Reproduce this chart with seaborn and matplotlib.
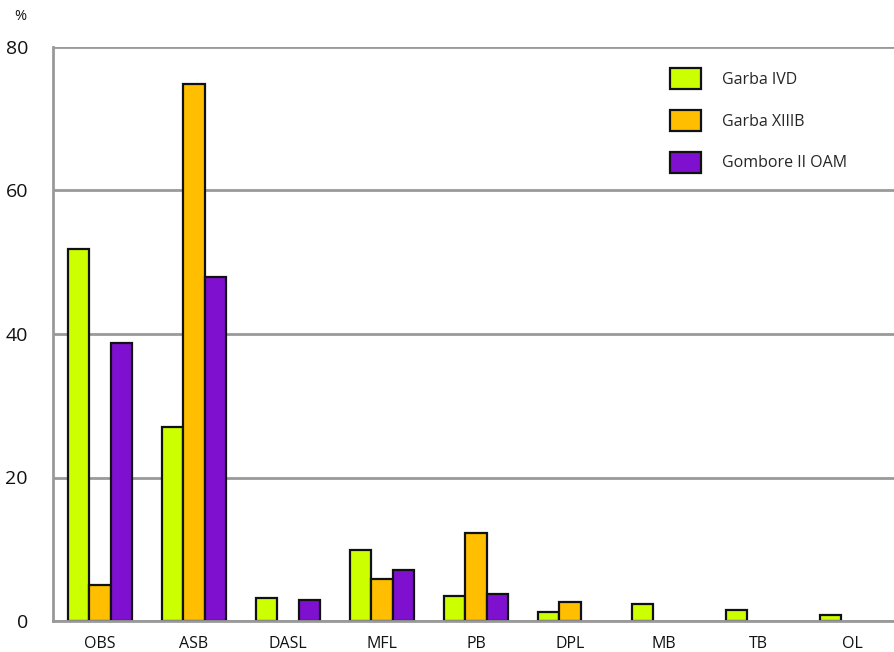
import matplotlib
matplotlib.use('Agg')
import matplotlib.pyplot as plt
import seaborn as sns
import numpy as np
import pandas as pd

# data (% per category)
categories = ['OBS', 'ASB', 'DASL', 'MFL', 'PB', 'DPL', 'MB', 'TB', 'OL']
series = ['Garba IVD', 'Garba XIIIB', 'Gombore II OAM']
garba_ivd = [51.8, 27.1, 3.2, 9.9, 3.5, 1.2, 2.4, 1.5, 0.9]
garba_xiiib = [5.0, 74.9, np.nan, 5.8, 12.3, 2.7, np.nan, np.nan, np.nan]
gombore_oam = [38.8, 48.0, 2.9, 7.05, 3.8, np.nan, np.nan, np.nan, np.nan]
colors = ['#CCFF00', '#FFBF00', '#8010D0']

df = pd.DataFrame({
    'category': categories * 3,
    'series': [series[0]] * 9 + [series[1]] * 9 + [series[2]] * 9,
    'value': garba_ivd + garba_xiiib + gombore_oam,
})

sns.set_style('white')
plt.rcParams['font.family'] = ['Open Sans', 'DejaVu Sans']

fig = plt.figure(figsize=(8.95, 6.52), dpi=100)
ax = fig.add_axes([53 / 895, 31 / 652, 846 / 895, 574 / 652])

sns.barplot(data=df, x='category', y='value', hue='series',
            order=categories, hue_order=series, palette=colors,
            width=0.68, edgecolor='#111111', linewidth=1.6,
            errorbar=None, saturation=1, ax=ax)

ax.set_xlim(-0.5, 8.5)
ax.set_ylim(0, 80)
ax.set_yticks([0, 20, 40, 60, 80])
ax.set_xlabel('')
ax.set_ylabel('')

grid_color = '#999999'
ax.yaxis.grid(True, color=grid_color, linewidth=2)
ax.set_axisbelow(True)
for side in ['top', 'right']:
    ax.spines[side].set_visible(False)
for side in ['left', 'bottom']:
    ax.spines[side].set_color(grid_color)
    ax.spines[side].set_linewidth(2)

ax.tick_params(axis='y', length=8, width=2, color=grid_color,
               labelsize=14, pad=10, labelcolor='#111111')
ax.tick_params(axis='x', which='major', length=0, labelsize=11.5,
               pad=11, labelcolor='#111111')
ax.set_xticks(np.arange(0.5, 8.5, 1), minor=True)
ax.tick_params(axis='x', which='minor', length=7, width=2, color=grid_color)

fig.text(20 / 895, 1 - 16 / 652, '%', fontsize=10.5, ha='center', va='center',
         color='#111111')

ax.legend(loc='upper left', bbox_to_anchor=(670 / 895, 1 - 68 / 652),
          bbox_transform=fig.transFigure, frameon=False, fontsize=11.5,
          handlelength=1.95, handleheight=1.65, labelspacing=1.3,
          handletextpad=1.3, borderpad=0, borderaxespad=0)

fig.savefig('out.png', dpi=100)
